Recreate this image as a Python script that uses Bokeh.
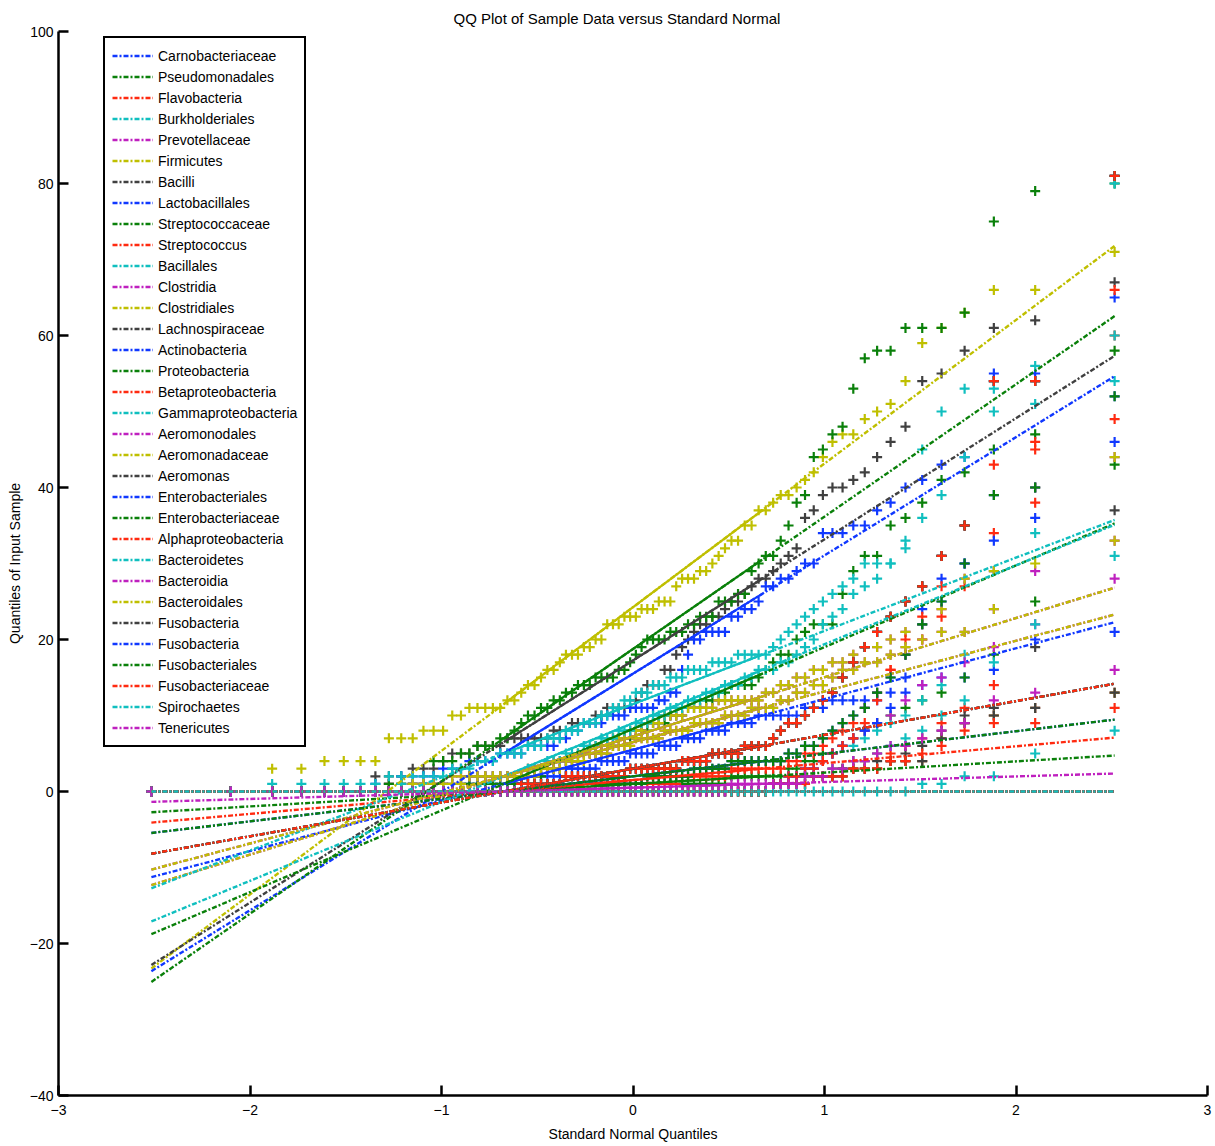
import math
from statistics import NormalDist
from bokeh.plotting import figure
from bokeh.models import Legend, LegendItem, FixedTicker, Range1d
from bokeh.embed import file_html
from bokeh.resources import INLINE

# ---------------- data (sorted sample values, 84 samples per taxon) ----------------
names = ["Carnobacteriaceae", "Pseudomonadales", "Flavobacteria", "Burkholderiales",
         "Prevotellaceae", "Firmicutes", "Bacilli", "Lactobacillales", "Streptococcaceae",
         "Streptococcus", "Bacillales", "Clostridia", "Clostridiales", "Lachnospiraceae",
         "Actinobacteria", "Proteobacteria", "Betaproteobacteria", "Gammaproteobacteria",
         "Aeromonodales", "Aeromonadaceae", "Aeromonas", "Enterobacteriales",
         "Enterobacteriaceae", "Alphaproteobacteria", "Bacteroidetes", "Bacteroidia",
         "Bacteroidales", "Fusobacteria", "Fusobacteria", "Fusobacteriales",
         "Fusobacteriaceae", "Spirochaetes", "Tenericutes"]

carnobacteriaceae = [0] * 16 + [1, 1, 1, 1, 1, 1, 1, 1, 2, 2, 2, 2, 2, 2, 3, 3, 3, 3, 3, 3,
                                4, 4, 4, 4, 4, 5, 5, 5, 5, 5, 6, 6, 6, 6, 7, 7, 7, 7, 8, 8, 8, 8,
                                9, 9, 9, 9, 10, 10, 10, 10, 10, 10, 11, 11, 11, 12, 12, 12, 12, 12,
                                13, 13, 14, 15, 15, 16, 20, 21]
pseudomonadales = [0] * 50 + [1, 1, 1, 1, 1, 1, 1, 1, 2, 2, 2, 2, 2, 2, 2, 2,
                              3, 3, 4, 4, 5, 5, 6, 7, 8, 9, 10, 11, 12, 13, 15, 18, 25, 43]
flavobacteria = [0] * 64 + [1, 1, 1, 1, 2, 2, 2, 3, 3, 4, 4, 5, 5, 6, 7, 9, 11, 14, 38, 60]
burkholderiales = [0] * 64 + [1, 1, 2, 2, 3, 3, 4, 5, 6, 6, 7, 8, 9, 10, 12, 14, 18, 29, 34, 54]
prevotellaceae = [0] * 64 + [1, 1, 2, 2, 3, 3, 4, 5, 6, 7, 8, 9, 10, 12, 14, 15, 17, 19, 22, 28]
firmicutes = [0, 0, 3, 3, 4, 4, 4, 4, 7, 7, 7, 8, 8, 8, 10, 10, 11, 11, 11, 11,
              11, 12, 12, 13, 14, 14, 15, 16, 16, 17, 18, 18, 18, 19, 19, 20, 20, 22, 22, 22,
              23, 23, 23, 24, 24, 24, 25, 25, 25, 27, 28, 28, 28, 29, 29, 30, 31, 32, 33, 33,
              35, 35, 37, 37, 38, 39, 39, 40, 41, 42, 44, 46, 47, 47, 49, 50, 51, 54, 59, 61,
              63, 66, 66, 71]
bacilli = [0] * 7 + [2, 2, 2, 3, 3, 3, 4, 5, 5, 5, 6, 6, 6, 6, 7, 7, 7, 7, 7, 7, 7,
                     8, 8, 8, 9, 9, 9, 9, 10, 10, 11, 11, 11, 11, 11, 12, 13, 14, 14, 14, 16, 16,
                     18, 19, 20, 21, 22, 22, 23, 23, 24, 25, 25, 26, 27, 28, 28, 29, 30, 31, 32, 36,
                     37, 39, 40, 40, 41, 42, 44, 46, 48, 54, 55, 58, 61, 62, 67]
lactobacillales = [0] * 7 + [1, 1, 2, 2, 2, 2, 3, 3, 3, 4, 4, 4, 4, 5, 5, 5, 5, 6, 6, 6, 6, 6,
                             7, 7, 8, 8, 9, 9, 9, 9, 10, 10, 10, 10, 11, 11, 11, 11, 11, 12, 12, 13, 13,
                             16, 18, 20, 20, 21, 21, 21, 21, 23, 23, 24, 24, 25, 27, 27, 28, 28, 29, 30, 30,
                             34, 34, 34, 35, 35, 37, 38, 40, 41, 43, 44, 55, 55, 65]
streptococcaceae = [0] * 15 + [1, 1, 1, 1, 1, 1, 1, 1, 1, 2, 2, 2, 3, 3, 3, 4, 4, 4, 5, 5, 5,
                               6, 6, 6, 7, 7, 7, 8, 8, 8, 9, 9, 9, 10, 10, 10, 11, 11, 11, 12, 12,
                               13, 13, 14, 14, 14, 14, 15, 16,
                               17, 18, 18, 20, 21, 22, 22, 22, 26, 29, 31, 31, 35, 36, 38, 41, 42, 45, 47, 58]
streptococcus = [0] * 40 + [1, 1, 1, 1, 1, 1, 1, 1, 1, 1, 2, 2, 2, 2, 2, 2, 2, 2,
                            3, 3, 3, 3, 3, 3, 3, 3,
                            4, 4, 5, 5, 6, 7, 8, 9, 11, 13, 16, 18, 20, 23, 27, 34, 45, 49]
bacillales = [0] * 64 + [1, 1, 1, 1, 2, 2, 2, 3, 3, 4, 4, 5, 6, 7, 8, 10, 12, 17, 22, 31]
clostridiales = [0] * 8 + [1, 1, 1, 1, 1, 1, 2, 2, 2, 2, 2, 2, 2, 2, 2, 2, 3, 3, 3, 3, 4, 4, 4, 4,
                           5, 5, 5, 6, 6, 6, 7, 7, 7, 8, 8, 8, 9, 9, 9, 10, 10, 10, 10,
                           11, 11, 11, 11, 11, 12, 12, 12, 12, 12, 12, 12, 13,
                           13, 14, 14, 15, 15, 16, 16, 17, 17, 18, 19, 19, 20, 21, 22, 24, 28, 29, 40, 44]
clostridia = clostridiales
lachnospiraceae = [0] * 64 + [1, 1, 1, 1, 2, 2, 2, 2, 3, 3, 3, 4, 4, 5, 6, 8, 10, 11, 19, 37]
actinobacteria = [0] * 64 + [1, 1, 2, 2, 3, 3, 4, 5, 6, 7, 8, 9, 11, 15, 24, 28, 30, 33, 36, 46]
proteobacteria = [0] * 8 + [1, 1, 1, 1, 4, 4, 4, 5, 5, 6, 6, 6, 7, 7, 8, 9, 10, 10, 11, 11,
                            12, 12, 13, 13, 14, 14, 14, 15, 15, 15, 15, 16, 16, 17, 18, 19,
                            20, 20, 20, 20, 21, 21, 21, 22, 22, 23, 23, 23, 25, 25, 25, 26, 26, 29, 30, 31,
                            31, 33, 35, 38, 39, 44, 45, 47, 48, 53, 57, 58, 58, 61, 61, 61, 63, 75, 79, 80]
betaproteobacteria = [0] * 64 + [1, 1, 2, 2, 3, 3, 4, 5, 6, 7, 9, 12, 16, 20, 23, 27, 35, 43, 46, 66]
gammaproteobacteria = [0] * 2 + [1, 1, 1, 1, 1, 1, 2, 2, 2, 2, 2, 2, 3, 3, 3, 4, 4, 4, 5, 5, 5, 5,
                                 6, 6, 6, 7, 7, 7, 8, 8, 8, 9, 9, 9, 10, 10, 11, 11, 12, 12,
                                 13, 13, 13, 14, 14, 14, 15, 15, 15, 16, 16, 16, 16, 17, 17, 17, 17,
                                 18, 18, 18, 18, 18,
                                 19, 20, 21, 22, 23, 24, 25, 26, 27, 28, 30, 30, 30, 32, 45, 50, 53, 53, 56, 80]
aeromonas = [0] * 64 + [1, 1, 1, 1, 1, 2, 2, 2, 2, 3, 3, 3, 4, 4, 4, 7, 9, 10, 11, 13]
aeromonadaceae = aeromonas
aeromonodales = aeromonas
enterobacteriaceae = [0] * 35 + [1, 1, 1, 1, 1, 1, 1, 1, 1, 2, 2, 2, 2, 2, 2, 2, 2,
                                 3, 3, 3, 3, 3, 3, 4, 4, 4, 4, 4, 4, 4, 4,
                                 5, 5, 6, 6, 7, 8, 9, 10, 11, 13, 15, 18, 22, 25, 30, 39, 40, 52]
enterobacteriales = enterobacteriaceae
alphaproteobacteria = [0] * 64 + [1, 1, 1, 1, 1, 2, 2, 2, 2, 3, 3, 3, 4, 4, 5, 6, 8, 9, 9, 11]
bacteroidetes = [0] * 9 + [1, 1, 1, 1, 1, 1, 1, 2, 2, 2, 2, 2, 2, 2, 2,
                           3, 3, 3, 4, 4, 4, 5, 5, 5, 6, 6, 6, 7, 7, 7, 8, 8, 8, 9, 9, 9,
                           10, 10, 10, 11, 11, 11, 12, 12, 12, 13, 13, 13, 14, 14, 14, 15, 15, 16, 16,
                           16, 17, 17, 18, 19, 20, 22, 23, 24, 26, 27, 28, 30, 33, 36, 39, 44, 50, 51, 60]
bacteroidales = [0] * 10 + [1, 1, 1, 1, 1, 1, 2, 2, 2, 2, 2, 2, 2, 2, 2, 2,
                            3, 3, 3, 3, 4, 4, 4, 4, 5, 5, 5, 5, 6, 6, 6, 6, 7, 7, 7, 7, 7,
                            8, 8, 8, 8, 8, 9, 9, 9, 9, 9, 10, 10, 10, 10, 11, 11, 11,
                            11, 12, 12, 13, 13, 14, 14, 15, 16, 16, 17, 17, 18, 19, 20, 21, 21, 24, 30, 33]
bacteroidia = [0] * 10 + [1, 1, 1, 1, 1, 1, 2, 2, 2, 2, 2, 2, 2, 2, 2, 2,
                          3, 3, 3, 3, 4, 4, 4, 4, 5, 5, 5, 5, 6, 6, 6, 6, 7, 7, 7, 7, 7,
                          8, 8, 8, 8, 8, 9, 9, 9, 9, 9, 10, 10, 10, 10, 11, 11, 11,
                          11, 12, 12, 13, 13, 14, 14, 15, 16, 16, 17, 17, 18, 19, 20, 21, 21, 24, 29, 33]
fusobacteriaceae = [0] * 23 + [1, 1, 1, 1, 1, 1, 1, 2, 2, 2, 2, 2, 2, 2, 2, 2, 2, 2,
                               3, 3, 3, 3, 3, 3, 3, 3, 3, 4, 4, 4, 4, 4, 5, 5, 5, 5, 5, 6, 6, 6, 6,
                               7, 8, 9, 9, 10, 11, 12, 13, 15, 17, 19, 21, 23, 25, 27, 31, 35, 54, 54, 81]
fusobacteria_phylum = fusobacteriaceae
fusobacteria_class = fusobacteriaceae
fusobacteriales = fusobacteriaceae
spirochaetes = [0] * 78 + [1, 1, 2, 2, 5, 8]
tenericutes = [0] * 58 + [1, 1, 1, 1, 1, 1, 1, 1,
                          1, 1, 2, 2, 2, 3, 3, 4, 4, 5, 6, 6, 7, 8, 9, 12, 13, 16]

series = [carnobacteriaceae, pseudomonadales, flavobacteria, burkholderiales, prevotellaceae,
          firmicutes, bacilli, lactobacillales, streptococcaceae, streptococcus, bacillales,
          clostridia, clostridiales, lachnospiraceae, actinobacteria, proteobacteria,
          betaproteobacteria, gammaproteobacteria, aeromonodales, aeromonadaceae, aeromonas,
          enterobacteriales, enterobacteriaceae, alphaproteobacteria, bacteroidetes, bacteroidia,
          bacteroidales, fusobacteria_phylum, fusobacteria_class, fusobacteriales,
          fusobacteriaceae, spirochaetes, tenericutes]

x_ticks = [-3, -2, -1, 0, 1, 2, 3]
y_ticks = [-40, -20, 0, 20, 40, 60, 80, 100]

# MATLAB default colour order: b g r c m y k
color_order = ["#1038ff", "#0a800a", "#ff2a10", "#10bfbf", "#bf20bf", "#bfbf00", "#404040"]

assert all(len(s) == 84 for s in series), [len(s) for s in series]

FONT = "Liberation Sans"
FS = "14px"


def prctile(v, pct):
    m = len(v)
    pos = pct / 100.0 * m + 0.5
    if pos <= 1:
        return v[0]
    if pos >= m:
        return v[-1]
    lo = int(math.floor(pos))
    f = pos - lo
    return v[lo - 1] + f * (v[lo] - v[lo - 1])


W, H = 1213, 1144
FL, FT, FR, FB = 58, 31, 1207, 1097
p = figure(width=W, height=H, x_range=Range1d(-3, 3), y_range=Range1d(-40, 100),
           output_backend="svg", toolbar_location=None,
           min_border_left=FL, min_border_right=W - FR, min_border_top=FT, min_border_bottom=H - FB)
p.outline_line_color = None
p.xgrid.visible = False
p.ygrid.visible = False

p.title.text = "QQ Plot of Sample Data versus Standard Normal"
p.title.align = "left"
p.title.offset = 395
p.title.standoff = 10
p.title.text_font = FONT
p.title.text_font_size = "15px"
p.title.text_font_style = "normal"
p.title.text_color = "black"

nd = NormalDist()
pts = []
for k, vals in enumerate(series):
    ys = sorted(vals)
    n = len(ys)
    xs = [nd.inv_cdf((i + 0.5) / n) for i in range(n)]
    pts.append((xs, ys, color_order[k % 7]))

for xs, ys, col in pts:
    p.scatter(xs, ys, marker="cross", size=10, line_width=2.2, color=col)

lines = []
for xs, ys, col in pts:
    q1x, q3x = prctile(xs, 25), prctile(xs, 75)
    q1y, q3y = prctile(ys, 25), prctile(ys, 75)
    slope = (q3y - q1y) / (q3x - q1x)
    cx, cy = (q1x + q3x) / 2, (q1y + q3y) / 2
    minx, maxx = xs[0], xs[-1]
    lines.append((q1x, q3x, q1y, q3y, minx, maxx,
                  cy - slope * (cx - minx), cy + slope * (maxx - cx), col))

for q1x, q3x, q1y, q3y, minx, maxx, miny, maxy, col in lines:
    p.line([q1x, q3x], [q1y, q3y], line_width=2.2, color=col)

dash_r = []
for q1x, q3x, q1y, q3y, minx, maxx, miny, maxy, col in lines:
    dash_r.append(p.line([minx, maxx], [miny, maxy], line_width=2.4, color=col,
                         line_dash="5 2 2 2"))

# axes
p.xaxis.ticker = FixedTicker(ticks=x_ticks)
p.yaxis.ticker = FixedTicker(ticks=y_ticks)
for ax in (p.xaxis[0], p.yaxis[0]):
    ax.axis_line_width = 2.5
    ax.axis_line_color = "black"
    ax.major_tick_in = 10
    ax.major_tick_out = 0
    ax.major_tick_line_width = 2.5
    ax.major_tick_line_color = "black"
    ax.minor_tick_line_color = None
    ax.major_label_text_font = FONT
    ax.major_label_text_font_size = FS
    ax.major_label_text_color = "black"
    ax.axis_label_text_font = FONT
    ax.axis_label_text_font_size = FS
    ax.axis_label_text_font_style = "normal"
    ax.axis_label_text_color = "black"
p.xaxis.axis_label = "Standard Normal Quantiles"
p.yaxis.axis_label = "Quantiles of Input Sample"
p.xaxis.major_label_standoff = 9
p.xaxis.axis_label_standoff = 8
p.yaxis.major_label_standoff = 5
p.yaxis.axis_label_standoff = 4

items = [LegendItem(label=names[k], renderers=[dash_r[k]]) for k in range(len(names))]
legend = Legend(items=items, location=(45, (FB - FT) - 6 - 708 - 4), glyph_width=41, glyph_height=21,
                label_height=21, spacing=0, padding=7, margin=0, label_standoff=5,
                label_text_font=FONT, label_text_font_size=FS, label_text_color="black",
                border_line_color="black", border_line_width=2.5, border_line_alpha=1.0,
                background_fill_color="white", background_fill_alpha=1.0)
p.add_layout(legend)

open("out.html", "w").write(file_html(p, INLINE))
